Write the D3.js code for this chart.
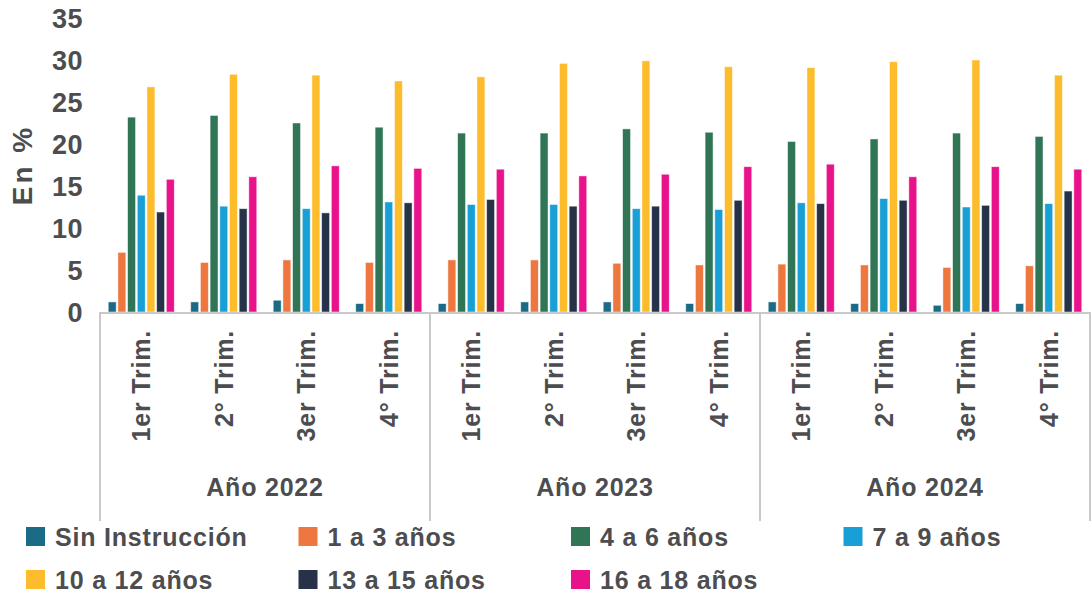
<!DOCTYPE html>
<html>
  <head>
    <meta charset="utf-8">
    <script src="https://d3js.org/d3.v7.min.js"></script>
    <style>
      body, html {
        margin: 0;
        background: #fff;
        font-family: 'Liberation Sans', Arial, sans-serif;
      }
      text {
        fill: #4d4d4f;
        font-weight: bold;
      }
      .sep {
        stroke: #c9c9cc;
        stroke-width: 2px;
      }
      .bar {
        stroke: rgba(255,255,255,0.6);
        stroke-width: 0.8px;
      }
    </style>
  </head>
  <body>
    <div id="chart"></div>
    <script>
      var years = ["Año 2022", "Año 2023", "Año 2024"];
      var quarters = ["1er Trim.", "2° Trim.", "3er Trim.", "4° Trim."];
      var series = ["Sin Instrucción", "1 a 3 años", "4 a 6 años", "7 a 9 años",
                    "10 a 12 años", "13 a 15 años", "16 a 18 años"];
      var colors = ["#1b6a86", "#ee7740", "#2f7556", "#189fd6", "#fdbc2b", "#263248", "#e8138b"];

      // one array per serie, 12 trimestres (2022 T1 .. 2024 T4)
      var sinInstruccion = [1.2, 1.2, 1.4, 1.0, 1.0, 1.2, 1.2, 1.0, 1.2, 1.0, 0.8, 1.0];
      var anios1a3   = [7.1, 5.9, 6.2, 5.9, 6.2, 6.2, 5.8, 5.6, 5.7, 5.6, 5.3, 5.5];
      var anios4a6   = [23.2, 23.4, 22.5, 22.0, 21.3, 21.3, 21.8, 21.4, 20.3, 20.6, 21.3, 20.9];
      var anios7a9   = [13.9, 12.6, 12.3, 13.1, 12.8, 12.8, 12.3, 12.2, 13.0, 13.5, 12.5, 12.9];
      var anios10a12 = [26.8, 28.3, 28.2, 27.5, 28.0, 29.6, 29.9, 29.2, 29.1, 29.8, 30.0, 28.2];
      var anios13a15 = [11.9, 12.3, 11.8, 13.0, 13.4, 12.6, 12.6, 13.3, 12.9, 13.3, 12.7, 14.4];
      var anios16a18 = [15.8, 16.1, 17.4, 17.1, 17.0, 16.2, 16.4, 17.3, 17.6, 16.1, 17.3, 17.0];
      var values = [sinInstruccion, anios1a3, anios4a6, anios7a9, anios10a12, anios13a15, anios16a18];
      var yTicks = [0, 5, 10, 15, 20, 25, 30, 35];

      var width = 1092, height = 594;
      var left = 100, right = 1090, baseY = 312, topY = 18;

      var cats = [];
      years.forEach((y, yi) => quarters.forEach((q, qi) => cats.push({year: y, q: q, idx: yi * 4 + qi})));

      var svg = d3.select("#chart").append("svg")
        .attr("width", width)
        .attr("height", height);

      var x = d3.scaleBand()
        .domain(cats.map(d => d.idx))
        .range([left, right]);

      var xs = d3.scaleBand()
        .domain(d3.range(series.length))
        .range([0, x.bandwidth()])
        .paddingInner(0.18)
        .paddingOuter(0.85);

      var y = d3.scaleLinear()
        .domain([0, 35])
        .range([baseY, topY]);

      // y tick labels
      svg.append("g").selectAll("text")
        .data(yTicks)
        .enter()
        .append("text")
          .attr("x", 83)
          .attr("y", d => y(d))
          .attr("dy", "0.36em")
          .attr("text-anchor", "end")
          .style("font-size", "27px")
          .style("letter-spacing", "0.5px")
          .text(d => d);

      svg.append("text")
        .attr("transform", "translate(32," + 165 + ") rotate(-90)")
        .attr("text-anchor", "middle")
        .style("font-size", "28px")
        .style("letter-spacing", "3px")
        .text("En %");

      // bars
      var groups = svg.append("g").selectAll("g")
        .data(cats)
        .enter()
        .append("g")
          .attr("transform", d => "translate(" + x(d.idx) + ",0)");

      groups.selectAll("rect")
        .data(d => series.map((s, si) => ({si: si, v: values[si][d.idx]})))
        .enter()
        .append("rect")
          .attr("class", "bar")
          .attr("x", d => xs(d.si))
          .attr("width", xs.bandwidth())
          .attr("y", d => y(d.v))
          .attr("height", d => baseY - y(d.v))
          .attr("fill", d => colors[d.si]);

      // x axis line
      svg.append("line")
        .attr("class", "sep")
        .attr("x1", left).attr("x2", right)
        .attr("y1", baseY + 1).attr("y2", baseY + 1);

      // separators between years
      var sepX = [0, 4, 8].map(i => x(i)).concat([right]);
      svg.append("g").selectAll("line")
        .data(sepX)
        .enter()
        .append("line")
          .attr("class", "sep")
          .attr("x1", d => d).attr("x2", d => d)
          .attr("y1", baseY).attr("y2", 521);

      // quarter labels
      svg.append("g").selectAll("text")
        .data(cats)
        .enter()
        .append("text")
          .attr("transform", d => "translate(" + (x(d.idx) + x.bandwidth() / 2) + ",330) rotate(-90)")
          .attr("dy", "0.36em")
          .attr("text-anchor", "end")
          .style("font-size", "25px")
          .style("letter-spacing", "0.8px")
          .text(d => d.q);

      // year labels
      svg.append("g").selectAll("text")
        .data(years)
        .enter()
        .append("text")
          .attr("x", (d, i) => (x(i * 4) + sepX[i + 1]) / 2)
          .attr("y", 496)
          .attr("text-anchor", "middle")
          .style("font-size", "25px")
          .style("letter-spacing", "0.8px")
          .text(d => d);

      // legend
      var legend = svg.append("g").selectAll("g")
        .data(series)
        .enter()
        .append("g")
          .attr("transform", (d, i) => "translate(" + (26 + (i % 4) * 272.5) + "," + (527 + Math.floor(i / 4) * 43) + ")");

      legend.append("rect")
        .attr("width", 19)
        .attr("height", 19)
        .attr("fill", (d, i) => colors[i]);

      legend.append("text")
        .attr("x", 29)
        .attr("y", 10)
        .attr("dy", "0.36em")
        .style("font-size", "25px")
        .style("letter-spacing", "0.8px")
        .text(d => d);
    </script>
  </body>
</html>
